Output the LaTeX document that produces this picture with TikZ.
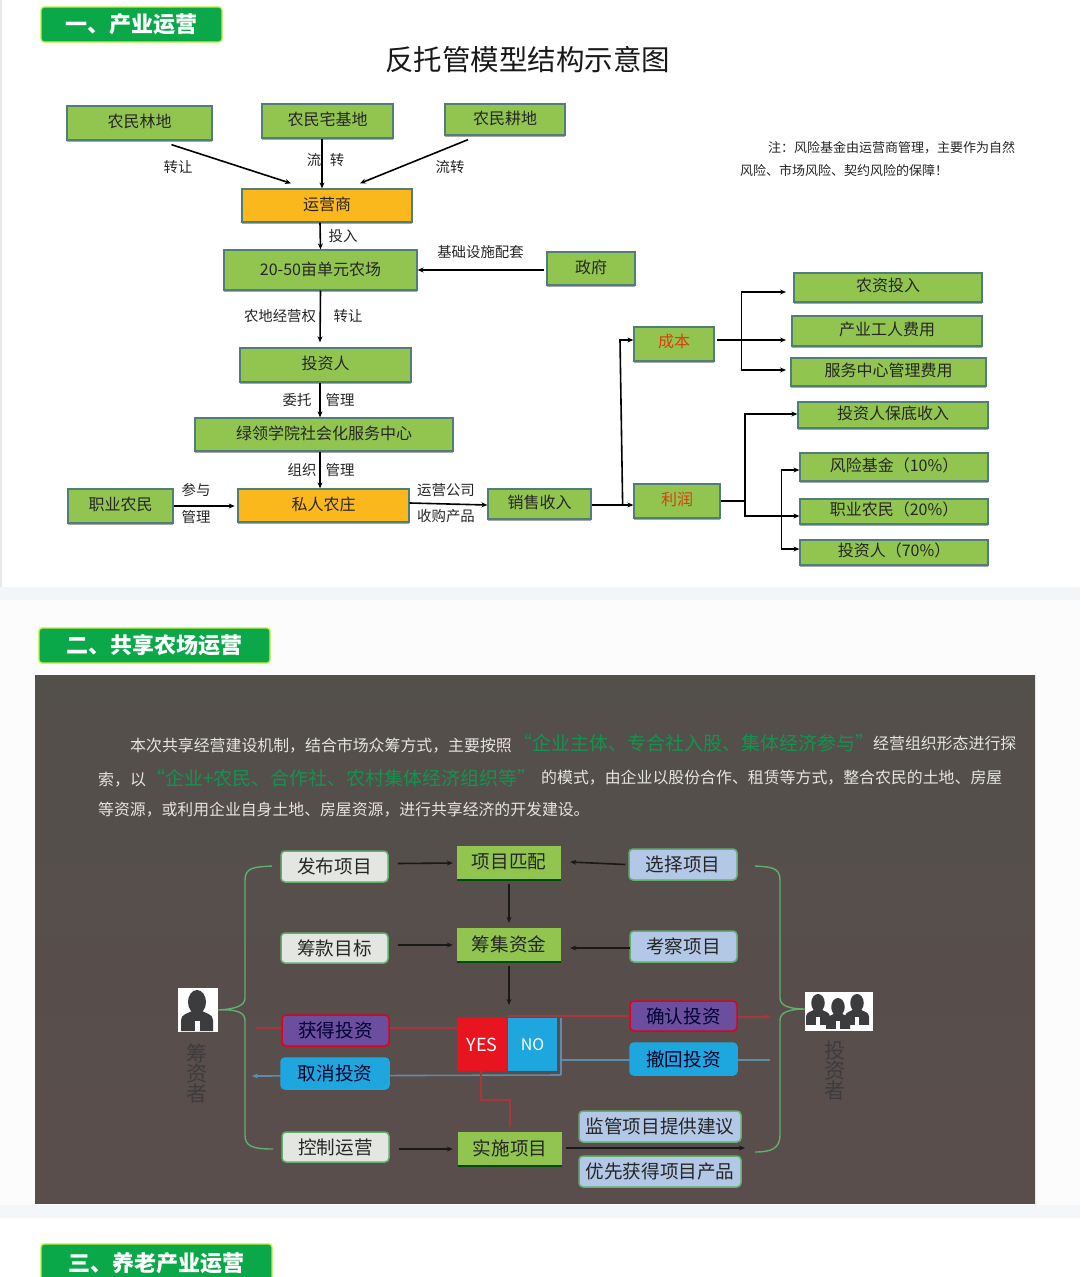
\documentclass[tikz,border=0pt]{standalone}
\usepackage{fontspec}
\setmainfont{Noto Sans CJK SC}
\usetikzlibrary{arrows.meta,shadows,calc}
\newcommand\fsz[1]{\fontsize{#1}{#1}\selectfont}
\definecolor{boxgreen}{HTML}{92C550}
\definecolor{boxedge}{HTML}{4F7F78}
\definecolor{boxorange}{HTML}{FBB81D}
\definecolor{hdgreen}{HTML}{0BA84A}
\definecolor{hdedge}{HTML}{C6EE3A}
\definecolor{panelTop}{HTML}{534F4B}
\definecolor{panelBot}{HTML}{5A4E4C}
\definecolor{bracegreen}{HTML}{62AE6C}
\definecolor{paratext}{HTML}{E4E4E2}
\definecolor{paragreen}{HTML}{14934F}
\definecolor{redtext}{HTML}{D8400E}
\definecolor{lineRed}{HTML}{A8363C}
\definecolor{lineBlue}{HTML}{5F8CA8}
\definecolor{cyanfill}{HTML}{1EA6DF}
\definecolor{purplefill}{HTML}{6C4E9E}
\definecolor{lightblue}{HTML}{B3C7E6}
\definecolor{lightgrey}{HTML}{E4E6E2}
\definecolor{icondark}{HTML}{3C3C3E}
\definecolor{bandA}{HTML}{F3F6F8}
\definecolor{bandB}{HTML}{FCFCFC}
\definecolor{bandC}{HTML}{F4F7FA}
\definecolor{yesred}{HTML}{E8141F}
\tikzset{
  x=1pt,y=-1pt,
  gbox/.style={draw=boxedge,line width=1.3pt,fill=boxgreen,text=black!85,font=\fsz{16},inner sep=0pt,
    drop shadow={shadow xshift=0pt,shadow yshift=-2pt,fill=black,opacity=.35}},
  obox/.style={gbox,fill=boxorange},
  rgbox/.style={gbox,text=redtext},
  hdbox/.style={draw=hdedge,line width=1.4pt,fill=hdgreen,text=white,font=\fsz{22}\bfseries,rounded corners=3pt,inner sep=0pt},
  lab/.style={text=black!85,font=\fsz{14.4},inner sep=0pt},
  note/.style={text=black!85,font=\fsz{13},inner sep=0pt,anchor=west},
  para/.style={text=paratext,font=\fsz{15.9},inner sep=0pt,anchor=west},
  parag/.style={text=paragreen,font=\fsz{19},inner sep=0pt,anchor=west},
  arr/.style={-{Stealth[length=6pt,width=5pt]},line width=1.6pt,black},
  seg/.style={line width=1.6pt,black},
  dk/.style={-{Stealth[length=6pt,width=5pt]},line width=1.6pt,black!90},
  rbase/.style={rounded corners=4pt,line width=1.5pt,font=\fsz{18.6},inner sep=0pt,text=black!85},
  wbox/.style={rbase,fill=lightgrey,draw=bracegreen},
  bbox/.style={rbase,fill=lightblue,draw=bracegreen},
  pbox/.style={rbase,fill=purplefill,draw=red!55!purple,text=black!80!blue},
  cbox/.style={rbase,fill=cyanfill,draw=cyanfill,text=black!85!blue},
  lbox/.style={fill=boxgreen,draw=none,font=\fsz{18.6},inner sep=0pt,text=black!85,
    drop shadow={shadow xshift=0pt,shadow yshift=-2pt,fill=green!30!black,opacity=1}},
  yesbox/.style={fill=yesred,draw=none,text=white,font=\fsz{18},inner sep=0pt},
  nobox/.style={fill=cyanfill,draw=none,text=white,font=\fsz{16},inner sep=0pt},
  redl/.style={line width=1.6pt,lineRed},
  blul/.style={line width=1.6pt,lineBlue},
  brace/.style={line width=1.4pt,bracegreen},
  vlab/.style={text=icondark,inner sep=0pt,align=center},
  iconbg/.style={fill=white,draw=none,inner sep=0pt},
}
% style, name, x1, y1, x2, y2, raise, text
\newcommand\bx[8]{%
  \pgfmathsetmacro\bxw{#5-#3}\pgfmathsetmacro\bxh{#6-#4}%
  \pgfmathsetmacro\bxcx{(#3+#5)/2}\pgfmathsetmacro\bxcy{(#4+#6)/2}%
  \node[#1,minimum width=\bxw pt,minimum height=\bxh pt] (#2) at (\bxcx,\bxcy) {\raisebox{#7pt}{#8}};%
}
\newcommand\personicon[3]{%
  \begin{scope}[shift={(#1,#2)},x=#3pt,y=-#3pt]
    \fill[icondark] (0,0) ellipse [x radius=9,y radius=12];
    \fill[icondark] (-16,29) -- (-16,18) .. controls (-16,12) and (-8,11) .. (-5,9) -- (5,9) .. controls (8,11) and (16,12) .. (16,18) -- (16,29) -- cycle;
    \fill[white] (-2.5,19) rectangle (2.5,29);
  \end{scope}%
}
\begin{document}
\begin{tikzpicture}
\useasboundingbox (0,0) rectangle (1080,1277);
% backgrounds
\fill[white] (0,0) rectangle (1080,1277);
\fill[black!9] (0,0) rectangle (1.5,587);
\fill[bandA] (0,587) rectangle (1080,600);
\fill[bandB] (0,600) rectangle (1080,1205);
\fill[bandC] (0,1205) rectangle (1080,1218);
\shade[top color=panelTop,bottom color=panelBot] (35,675) rectangle (1035,1203);
% headers
\bx{hdbox}{h1}{41}{7}{222}{42}{0}{一、产业运营}
\bx{hdbox}{h2}{39}{628}{270}{663}{0}{二、共享农场运营}
\bx{hdbox}{h3}{41}{1244}{272}{1285}{5}{三、养老产业运营}
\node[font=\fsz{28.5},text=black!90,inner sep=0pt] (title) at (527.5,60) {反托管模型结构示意图};
% section 1 boxes
\bx{gbox}{lin}{67}{106}{212}{140}{4.5}{农民林地}
\bx{gbox}{zhai}{262}{104}{393}{138}{4.5}{农民宅基地}
\bx{gbox}{geng}{445}{104}{565}{135}{4}{农民耕地}
\bx{obox}{yys}{242}{189}{412}{222}{4}{运营商}
\bx{gbox}{farm}{224}{250}{417}{290}{3}{20-50亩单元农场}
\bx{gbox}{gov}{547}{252}{635}{285}{4.5}{政府}
\bx{gbox}{inv}{240}{348}{411}{382}{4.5}{投资人}
\bx{gbox}{srv}{195}{418}{453}{451}{4.5}{绿领学院社会化服务中心}
\bx{obox}{siren}{238}{489}{409}{522}{4.5}{私人农庄}
\bx{gbox}{zhiye}{68}{489}{173}{523}{4.5}{职业农民}
\bx{gbox}{sale}{488}{489}{591}{519}{4.5}{销售收入}
\bx{rgbox}{cost}{634}{327}{714}{361}{6}{成本}
\bx{rgbox}{profit}{634}{484}{720}{518}{5}{利润}
\bx{gbox}{c1}{794}{273}{982}{302}{4.5}{农资投入}
\bx{gbox}{c2}{792}{316}{982}{346}{4.5}{产业工人费用}
\bx{gbox}{c3}{791}{358}{986}{386}{4.5}{服务中心管理费用}
\bx{gbox}{p0}{798}{402}{988}{428}{5}{投资人保底收入}
\bx{gbox}{p1}{800}{453}{988}{481}{5}{风险基金（10\%）}
\bx{gbox}{p2}{800}{499}{988}{524}{5.5}{职业农民（20\%）}
\bx{gbox}{p3}{800}{540}{988}{565}{5.5}{投资人（70\%）}
% section 1 connectors
\draw[arr] ([xshift=32pt,yshift=-4pt]lin.south) -- ([xshift=-36pt,yshift=5pt]yys.north);
\draw[arr] ([xshift=-5.5pt]zhai.south) -- ([xshift=-5pt]yys.north);
\draw[arr] ([xshift=-37pt,yshift=-4pt]geng.south) -- ([xshift=33pt,yshift=5pt]yys.north);
\draw[arr] ([xshift=-7pt]yys.south) -- (farm.north);
\draw[arr] (gov.west |- farm.east) ++(-2,0) -- (farm.east);
\draw[arr] (farm.south) -- ([xshift=-5.5pt,yshift=5pt]inv.north);
\draw[arr] ([xshift=-5.5pt]inv.south) -- ([xshift=-4pt]srv.north);
\draw[arr] ([xshift=-4pt]srv.south) -- ([xshift=-3.5pt]siren.north);
\draw[arr] (zhiye.east) -- ++(61,0) coordinate (zs);
\draw[arr] ([yshift=2.5pt]siren.east) -- ([yshift=-1pt]sale.west);
\draw[seg] ([yshift=-1pt]sale.east) -- ++(31,0) coordinate (j1);
\draw[arr] (j1) -- (j1 -| profit.west);
\draw[arr] (j1) -- (620,340) coordinate (j1top) -- (j1top -| cost.west);
\coordinate (j2) at (741.5,340);
\draw[arr] ([xshift=2pt,yshift=4pt]cost.east) -- (786,340) coordinate (c2end);
\draw[arr] (j2) -- (741.5,292) -- (786,292) coordinate (c1end);
\draw[arr] (j2) -- (741.5,370) -- (786,370) coordinate (c3end);
\coordinate (j3) at (745,501);
\draw[seg] (profit.east) -- (j3);
\draw[arr] (j3) -- (745,414) -- (p0.west |- 0,414);
\draw[arr] (j3) -- (745,516) -- (p2.west |- 0,516);
\draw[arr] (781.5,516) -- (781.5,470) -- (p1.west |- 0,470);
\draw[arr] (781.5,516) -- (781.5,549) -- (p3.west |- 0,549);
% section 1 labels
\node[lab] (l1) at (178,167) {转让};
\node[lab] (l2) at (314,160) {流};
\node[lab] (l3) at (337,160) {转};
\node[lab] (l4) at (450,167) {流转};
\node[lab] (l5) at (343,236.5) {投入};
\node[lab] (l6) at (480.5,252) {基础设施配套};
\node[lab] (l7) at (280,316) {农地经营权};
\node[lab] (l8) at (348,316) {转让};
\node[lab] (l9) at (297,400) {委托};
\node[lab] (l10) at (340,400) {管理};
\node[lab] (l11) at (302,470) {组织};
\node[lab] (l12) at (340,470) {管理};
\node[lab] (l13) at (196,490) {参与};
\node[lab] (l14) at (196,517) {管理};
\node[lab] (l15) at (446,490) {运营公司};
\node[lab] (l16) at (446,516) {收购产品};
\node[note] (n1) at (768,148) {注：风险基金由运营商管理，主要作为自然};
\node[note] (n2) at (740,171) {风险、市场风险、契约风险的保障！};
% paragraph
\node[para] (t1) at (130,745.5) {本次共享经营建设机制，结合市场众筹方式，主要按照};
\node[parag] (t2) at (513,743.5) {“企业主体、专合社入股、集体经济参与”};
\node[para] (t3) at (873,743.5) {经营组织形态进行探};
\node[para] (t4) at (98,780) {索，以};
\node[parag] (t5) at (146,778.5) {“企业+农民、合作社、农村集体经济组织等”};
\node[para] (t6) at (541,778) {的模式，由企业以股份合作、租赁等方式，整合农民的土地、房屋};
\node[para,font=\fsz{15.85}] (t7) at (98,810) {等资源，或利用企业自身土地、房屋资源，进行共享经济的开发建设。};
% section 2 lines under boxes
\draw[redl] (256,1028) -- (457,1028);
\draw[redl] (507,1016) -- (630,1016);
\draw[redl,-{Stealth[length=6pt,width=5pt]}] (737,1017) -- (771,1017) coordinate (rEnd);
\draw[blul] (561,1018) -- (561,1075);
\draw[blul] (561,1060) -- (770,1060) coordinate (bEnd);
\draw[blul,-{Stealth[length=6pt,width=5pt]}] (561,1075) -- (252,1076) coordinate (bEnd2);
% section 2 boxes
\bx{wbox}{fb}{281}{851}{388}{882}{0}{发布项目}
\bx{lbox}{ppp}{457}{846}{561}{879}{2}{项目匹配}
\bx{bbox}{xz}{629}{849}{737}{880}{0}{选择项目}
\bx{wbox}{ck}{281}{933}{388}{963}{0}{筹款目标}
\bx{lbox}{cj}{457}{928}{561}{961}{2}{筹集资金}
\bx{bbox}{kc}{630}{931}{737}{962}{0}{考察项目}
\bx{pbox}{hd}{282}{1015}{389}{1046}{0}{获得投资}
\bx{cbox}{qx}{281}{1058}{389}{1089}{0}{取消投资}
\bx{yesbox}{yes}{457}{1018}{507}{1071}{0}{YES}
\bx{nobox}{no}{508}{1018}{557}{1071}{0}{NO}
\bx{pbox}{qr}{630}{1001}{737}{1031}{0}{确认投资}
\bx{cbox}{ch}{630}{1043}{737}{1075}{0}{撤回投资}
\bx{wbox}{kz}{282}{1132}{389}{1162}{0}{控制运营}
\bx{lbox}{ss}{458}{1132}{562}{1165}{1}{实施项目}
\bx{bbox}{jg}{579}{1111}{741}{1142}{0}{监管项目提供建议}
\bx{bbox}{yx}{579}{1156}{741}{1187}{0}{优先获得项目产品}
% section 2 connectors
\draw[dk] ([xshift=9pt,yshift=3pt]fb.east) -- ([xshift=-4pt]ppp.west |- 0,863);
\draw[dk] ([xshift=-3pt]xz.west) -- ([xshift=9pt]ppp.east |- 0,862);
\draw[dk] ([yshift=-5pt]ppp.south) -- ([yshift=5pt]cj.north);
\draw[dk] ([xshift=9pt]ck.east |- 0,945) -- ([xshift=-4pt]cj.west |- 0,945);
\draw[dk] ([xshift=1pt]kc.west |- 0,948) -- ([xshift=9pt]cj.east |- 0,948);
\draw[dk] ([yshift=-5pt]cj.south) -- (509,1005) coordinate (yesTop);
\draw[dk] ([xshift=9pt]kz.east |- 0,1149) -- ([xshift=-5pt]ss.west |- 0,1149);
\draw[dk] ([xshift=4pt]ss.east |- 0,1148) -- (745,1148) coordinate (ssEnd);
\draw[redl] ([xshift=-1pt]yes.south) -- ++(0,29) -| ([xshift=0pt,yshift=5pt]ss.north);
% icons
\bx{iconbg}{iconL}{178}{988}{218}{1032}{0}{}
\personicon{197}{1002}{1}
\bx{iconbg}{iconR}{805}{992}{873}{1031}{0}{}
\personicon{818}{1003}{.75}
\personicon{857}{1003}{.75}
\personicon{838}{1007}{.75}
\node[vlab,font=\fsz{21}] (v1) at (197,1073) {筹\\[-1pt]资\\[-1pt]者};
\node[vlab,font=\fsz{21}] (v2) at (835,1071) {投\\[-1pt]资\\[-1pt]者};
% braces
\draw[brace] (272,866) .. controls (255,867) and (245,867) .. (245,880) -- (245,998)
   .. controls (245,1006) and (235,1009) .. (iconL.east) .. controls (235,1009) and (245,1012) .. (245,1020)
   -- (245,1135) .. controls (245,1146) and (252,1149) .. (273,1149);
\draw[brace] (755,866) .. controls (770,867) and (780,867) .. (780,880) -- (780,998)
   .. controls (780,1006) and (790,1009) .. (805,1009) .. controls (790,1009) and (780,1012) .. (780,1020)
   -- (780,1135) .. controls (780,1148) and (772,1152) .. (755,1152);
\end{tikzpicture}
\end{document}
